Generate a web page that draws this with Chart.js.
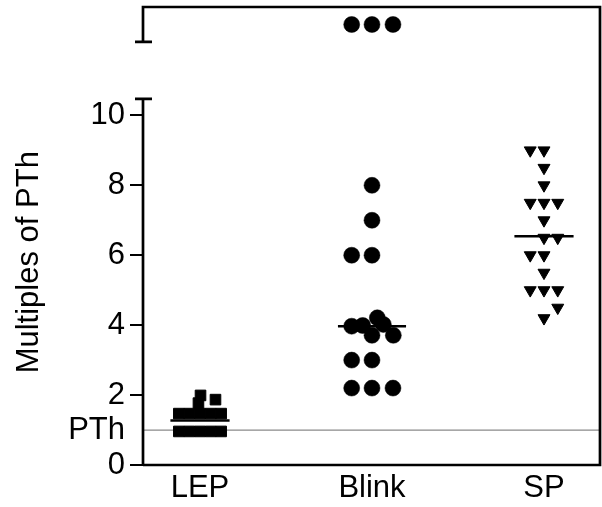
<!DOCTYPE html>
<html><head><meta charset="utf-8">
<script src="https://cdn.jsdelivr.net/npm/chart.js@4"></script>
<style>html,body{margin:0;padding:0;background:#fff;}</style>
</head><body>
<canvas id="c" width="602" height="507"></canvas>
<script>
// ---- data ----
const categories = ['LEP', 'Blink', 'SP'];
const categoryPositions = [1, 2, 3];

const lepValues  = [0.96, 0.96, 0.96, 0.96, 0.96, 1.47, 1.47, 1.47, 1.47, 1.47, 1.99, 1.77, 1.87];
const lepOffsets = [-0.123, -0.062, 0, 0.062, 0.123, -0.123, -0.062, 0, 0.062, 0.123, 0.003, -0.009, 0.09];

const blinkValues  = [12.6, 12.6, 12.6, 8.0, 7.0, 6.0, 6.0, 3.97, 3.99, 4.21, 4.02, 3.71, 3.71, 3.0, 3.0, 2.2, 2.2, 2.2];
const blinkOffsets = [-0.118, 0, 0.122, 0, 0, -0.118, 0, -0.118, -0.054, 0.031, 0.066, 0, 0.124, -0.118, 0, -0.118, 0, 0.122];

const spValues  = [9.0, 9.0, 8.5, 8.0, 7.5, 7.5, 7.5, 7.0, 6.5, 6.5, 6.0, 6.0, 5.5, 5.0, 5.0, 5.0, 4.5, 4.2];
const spOffsets = [-0.08, 0, 0, 0, -0.08, 0, 0.08, 0, 0, 0.08, -0.08, 0, 0, -0.08, 0, 0.08, 0.08, 0];

const medians = [1.27, 3.97, 6.54];
const medianHalfWidths = [0.172, 0.198, 0.172];

const pthValue = 1;
const yTickValues = [0, 1, 2, 4, 6, 8, 10];
const yTickLabels = ['0', 'PTh', '2', '4', '6', '8', '10'];
const yTitle = 'Multiples of PTh';
const yAxisMax = 13.1;
const breakLow = 10.47;
const breakHigh = 12.1;
const xMin = 0.6686, xMax = 3.3256;

// ---- style ----
const FONT = "'Liberation Sans', Arial, sans-serif";
const FONT_SIZE = 31;
const TITLE_X = 29;
const TITLE_CENTER_VALUE = 5.8;

// ---- build ----
const pts = (vals, offs, c) => vals.map((v, i) => ({x: c + offs[i], y: v}));
const medianLines = medians.map((m, i) => ({
  type: 'line',
  data: [{x: categoryPositions[i] - medianHalfWidths[i], y: m}, {x: categoryPositions[i] + medianHalfWidths[i], y: m}],
  borderColor: '#000', borderWidth: 2.5, pointRadius: 0, showLine: true, order: 1
}));

Chart.defaults.font.family = FONT;
Chart.defaults.font.size = FONT_SIZE;
Chart.defaults.color = '#000';

const frame = {
  id: 'frame',
  afterDatasetsDraw(chart) {
    const {ctx, chartArea: a, scales: {y}} = chart;
    const ax = a.left;
    const yLow = y.getPixelForValue(breakLow);
    const yHigh = y.getPixelForValue(breakHigh);
    ctx.save();
    ctx.strokeStyle = '#000';
    ctx.lineWidth = 2.7;
    ctx.lineJoin = 'miter';
    ctx.beginPath();
    ctx.moveTo(ax, a.bottom); ctx.lineTo(ax, yLow);
    ctx.moveTo(ax, yHigh); ctx.lineTo(ax, a.top); ctx.lineTo(a.right, a.top);
    ctx.lineTo(a.right, a.bottom); ctx.lineTo(ax, a.bottom);
    ctx.moveTo(ax - 8, yLow); ctx.lineTo(ax + 9, yLow);
    ctx.moveTo(ax - 8, yHigh); ctx.lineTo(ax + 9, yHigh);
    ctx.stroke();
    // y-axis title
    ctx.translate(TITLE_X, y.getPixelForValue(TITLE_CENTER_VALUE));
    ctx.rotate(-Math.PI / 2);
    ctx.fillStyle = '#000';
    ctx.font = FONT_SIZE + 'px ' + FONT;
    ctx.textAlign = 'center';
    ctx.textBaseline = 'middle';
    ctx.fillText(yTitle, 0, 0);
    ctx.restore();
  }
};

new Chart(document.getElementById('c'), {
  type: 'scatter',
  data: {
    datasets: [
      ...medianLines,
      {data: pts(lepValues, lepOffsets, categoryPositions[0]), pointStyle: 'rect', pointRadius: 7.5,
       backgroundColor: '#000', borderColor: '#000', borderWidth: 1, order: 2},
      {data: pts(blinkValues, blinkOffsets, categoryPositions[1]), pointStyle: 'circle', pointRadius: 8,
       backgroundColor: '#000', borderColor: '#000', borderWidth: 0.5, order: 2},
      {data: pts(spValues, spOffsets, categoryPositions[2]), pointStyle: 'triangle', rotation: 180, pointRadius: 6.9,
       backgroundColor: '#000', borderColor: '#000', borderWidth: 1, order: 2},
      {type: 'line', data: [{x: xMin, y: pthValue}, {x: xMax, y: pthValue}], borderColor: '#8a8a8a',
       borderWidth: 1.3, pointRadius: 0, showLine: true, order: 10}
    ]
  },
  options: {
    responsive: false,
    devicePixelRatio: 1,
    animation: false,
    layout: {autoPadding: false, padding: {top: 7, right: 2, left: 0, bottom: 0}},
    plugins: {legend: {display: false}, tooltip: {enabled: false}},
    scales: {
      x: {
        type: 'linear', min: xMin, max: xMax,
        afterBuildTicks: ax => { ax.ticks = categoryPositions.map(v => ({value: v})); },
        afterFit: s => { s.height = 42; s.paddingLeft = 0; s.paddingRight = 0; },
        grid: {display: false, drawTicks: false},
        border: {display: false},
        ticks: {autoSkip: false, padding: 5, maxRotation: 0,
                callback: v => categories[categoryPositions.indexOf(v)] ?? ''}
      },
      y: {
        type: 'linear', min: 0, max: yAxisMax,
        afterBuildTicks: ax => { ax.ticks = yTickValues.map(v => ({value: v})); },
        afterFit: s => { s.width = 143; s.paddingTop = 0; s.paddingBottom = 0; },
        grid: {drawOnChartArea: false, drawTicks: true, tickLength: 13, lineWidth: 2,
               tickColor: ctx => (ctx.tick && ctx.tick.value === pthValue) ? 'rgba(0,0,0,0)' : '#000'},
        border: {display: false},
        ticks: {autoSkip: false, padding: 5,
                callback: v => yTickLabels[yTickValues.indexOf(v)] ?? ''},
        title: {display: false}
      }
    }
  },
  plugins: [frame]
});
</script>
</body></html>
